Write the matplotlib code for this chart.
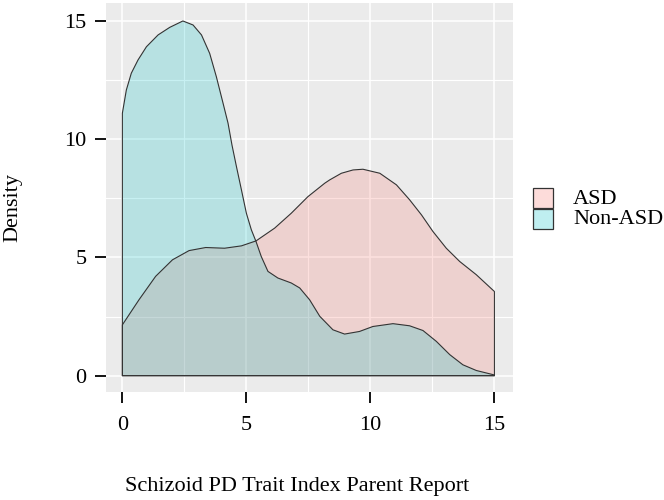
import matplotlib
matplotlib.use("Agg")
import matplotlib.pyplot as plt
from matplotlib.patches import Rectangle

plt.rcParams['font.family'] = ['Liberation Serif', 'DejaVu Serif']

# values
groups = ["ASD", "Non-ASD"]
colors = ["#F8766D", "#00BFC4"]

asd_x = [0, 0.67, 1.34, 2.02, 2.69, 3.36, 4.12, 4.8, 5.39, 6.14, 6.81, 7.48,
         8.16, 8.36, 8.83, 9.3, 9.7, 10.38, 11.05, 11.58, 12.06, 12.52, 13.06,
         13.6, 14.27, 15]
asd_y = [2.15, 3.21, 4.2, 4.9, 5.29, 5.42, 5.39, 5.49, 5.7, 6.24, 6.87, 7.57,
         8.14, 8.28, 8.56, 8.7, 8.73, 8.56, 8.07, 7.44, 6.8, 6.1, 5.39,
         4.83, 4.27, 3.56]

non_x = [0, 0.16, 0.36, 0.63, 0.97, 1.44, 1.91, 2.44, 2.85, 3.19, 3.52, 3.79,
         4.06, 4.26, 4.42, 4.6, 4.8, 5.0, 5.2, 5.39, 5.6, 5.87, 6.27, 6.81,
         7.15, 7.55, 7.96, 8.49, 8.96, 9.56, 10.1, 10.91, 11.58, 12.12, 12.66,
         13.2, 13.73, 14.27, 15]
non_y = [11.1, 12.08, 12.79, 13.35, 13.91, 14.41, 14.73, 15.0, 14.83, 14.41,
         13.63, 12.64, 11.52, 10.68, 9.75, 8.84, 7.86, 6.87, 6.17, 5.67, 5.04,
         4.41, 4.13, 3.92, 3.71, 3.21, 2.51, 1.94, 1.76, 1.87, 2.08, 2.2, 2.11,
         1.91, 1.45, 0.89, 0.46, 0.22, 0.03]

ticks = [0, 5, 10, 15]
minor_ticks = [2.5, 7.5, 12.5]

W, H = 664, 500
fig = plt.figure(figsize=(W / 100, H / 100), dpi=100)
ax = fig.add_axes([106 / W, 1 - 392 / H, (513 - 106) / W, (392 - 3) / H])
ax.set_facecolor("#EBEBEB")
for s in ax.spines.values():
    s.set_visible(False)

ax.set_xlim(-0.66, 15.75)
ax.set_ylim(-0.69, 15.76)

for t in ticks:
    ax.axvline(t, color="white", lw=1.1, zorder=0)
    ax.axhline(t, color="white", lw=1.1, zorder=0)
for t in minor_ticks:
    ax.axvline(t, color="white", lw=0.8, zorder=0)
    ax.axhline(t, color="white", lw=0.8, zorder=0)

for xs, ys, c in [(asd_x, asd_y, colors[0]), (non_x, non_y, colors[1])]:
    px = list(xs) + [xs[-1], xs[0]]
    py = list(ys) + [0, 0]
    ax.fill(px, py, facecolor=c, alpha=0.22, edgecolor="none", zorder=2)
    ax.fill(px, py, facecolor="none", edgecolor="#333333", lw=0.8,
            joinstyle="round", zorder=3)

ax.set_xticks(ticks)
ax.set_yticks(ticks)
ax.set_xticks([], minor=True)
ax.set_yticks([], minor=True)
ax.tick_params(axis="both", which="major", length=8, width=1.3, color="black",
               labelsize=16, labelcolor="black")
ax.tick_params(axis="x", pad=9)
ax.tick_params(axis="y", pad=6)

fig.text(297 / W, 1 - 486 / H, "Schizoid PD Trait Index Parent Report",
         ha="center", va="center", fontsize=16)
fig.text(13 / W, 1 - 208 / H, "Density", ha="center", va="center",
         rotation=90, fontsize=16)

# legend
key_x, key_w = 533, 20
for i, (g, c) in enumerate(zip(groups, colors)):
    top = 188 + i * 20.5
    r = Rectangle((key_x / W, 1 - (top + key_w) / H), key_w / W, key_w / H,
                  transform=fig.transFigure, facecolor=c, alpha=0.25,
                  edgecolor="none")
    fig.add_artist(r)
    r2 = Rectangle((key_x / W, 1 - (top + key_w) / H), key_w / W, key_w / H,
                   transform=fig.transFigure, facecolor="none",
                   edgecolor="#333333", lw=0.9)
    fig.add_artist(r2)
    fig.text(573 / W, 1 - (top + 11) / H, g, ha="left", va="center",
             fontsize=16)

fig.savefig("out.png", dpi=100)
